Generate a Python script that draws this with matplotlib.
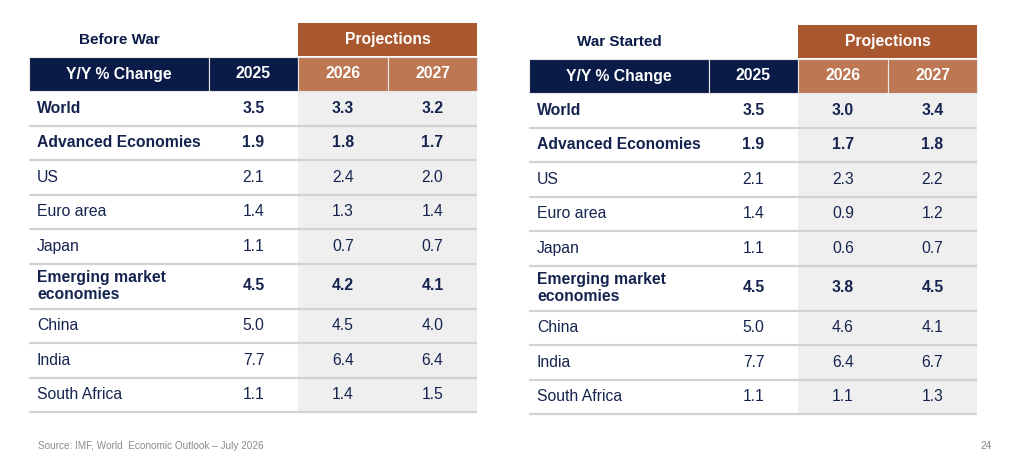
import matplotlib.pyplot as plt
from matplotlib.patches import Rectangle

plt.rcParams['font.family'] = ['Liberation Sans', 'DejaVu Sans']

# ---- data ----
regions = ['World', 'Advanced Economies', 'US', 'Euro area', 'Japan',
           'Emerging market\neconomies', 'China', 'India', 'South Africa']
bold_rows = [True, True, False, False, False, True, False, False, False]
years = ['2025', '2026', '2027']

before_2025 = [3.5, 1.9, 2.1, 1.4, 1.1, 4.5, 5.0, 7.7, 1.1]
before_2026 = [3.3, 1.8, 2.4, 1.3, 0.7, 4.2, 4.5, 6.4, 1.4]
before_2027 = [3.2, 1.7, 2.0, 1.4, 0.7, 4.1, 4.0, 6.4, 1.5]

war_2025 = [3.5, 1.9, 2.1, 1.4, 1.1, 4.5, 5.0, 7.7, 1.1]
war_2026 = [3.0, 1.7, 2.3, 0.9, 0.6, 3.8, 4.6, 6.4, 1.1]
war_2027 = [3.4, 1.8, 2.2, 1.2, 0.7, 4.5, 4.1, 6.7, 1.3]

source_text = 'Source: IMF, World  Economic Outlook \u2013 July 2026'
page_num = '24'

# ---- style ----
NAVY = '#0b1b48'
TEXT = '#15244f'
BROWN = '#a9572f'
BROWN_LT = '#bd7753'
GRAY_FILL = '#efefef'
LINE = '#d2d2d2'
FS = 11.3

row_h = [34.5, 34.5, 34.5, 34.5, 34.5, 45.0, 34.5, 34.5, 34.5]


def draw_table(ax, left, top, title, vals):
    # column edges: label, 2025, 2026, 2027
    edges = [left, left + 180, left + 269, left + 359, left + 448]
    band_h = 33
    head_h = 34

    # title over label column
    ax.text((edges[0] + edges[1]) / 2, top + band_h / 2, title, ha='center', va='center',
            fontsize=11, fontweight='bold', color=NAVY)
    # projections band
    ax.add_patch(Rectangle((edges[2], top), edges[4] - edges[2], band_h,
                           facecolor=BROWN, edgecolor='none'))
    ax.text((edges[2] + edges[4]) / 2, top + band_h / 2, 'Projections', ha='center',
            va='center', fontsize=FS, fontweight='bold', color='white')

    # header row
    hy = top + band_h + 1
    head_labels = ['Y/Y % Change'] + years
    head_cols = [NAVY, NAVY, BROWN_LT, BROWN_LT]
    for i in range(4):
        ax.add_patch(Rectangle((edges[i], hy), edges[i + 1] - edges[i], head_h,
                               facecolor=head_cols[i], edgecolor='#e8e8e8', linewidth=0.8))
        ax.text((edges[i] + edges[i + 1]) / 2, hy + head_h / 2, head_labels[i],
                ha='center', va='center', fontsize=FS, fontweight='bold', color='white')

    # gray shading for projection columns
    body_top = hy + head_h
    body_h = sum(row_h)
    ax.add_patch(Rectangle((edges[2], body_top), edges[4] - edges[2], body_h,
                           facecolor=GRAY_FILL, edgecolor='none', zorder=0))

    y = body_top
    for r, name in enumerate(regions):
        h = row_h[r]
        cy = y + h / 2
        w = 'bold' if bold_rows[r] else 'normal'
        ax.text(edges[0] + 8, cy, name, ha='left', va='center', fontsize=FS,
                fontweight=w, color=TEXT, linespacing=1.12)
        for c in range(3):
            ax.text((edges[c + 1] + edges[c + 2]) / 2, cy, f'{vals[c][r]:.1f}',
                    ha='center', va='center', fontsize=FS, fontweight=w, color=TEXT)
        y += h
        ax.plot([edges[0], edges[4]], [y, y], color=LINE, linewidth=1.6,
                solid_capstyle='butt', zorder=2)


fig = plt.figure(figsize=(10.24, 4.71), dpi=100)
ax = fig.add_axes([0, 0, 1, 1])
ax.set_xlim(0, 1024)
ax.set_ylim(471, 0)
ax.axis('off')

draw_table(ax, 29, 23, 'Before War', [before_2025, before_2026, before_2027])
draw_table(ax, 529, 25, 'War Started', [war_2025, war_2026, war_2027])

ax.text(38, 446, source_text, ha='left', va='center', fontsize=7.2, color='#8a8a8a')
ax.text(992, 446, page_num, ha='right', va='center', fontsize=7.2, color='#8a8a8a')

fig.savefig('out.png', dpi=100)
